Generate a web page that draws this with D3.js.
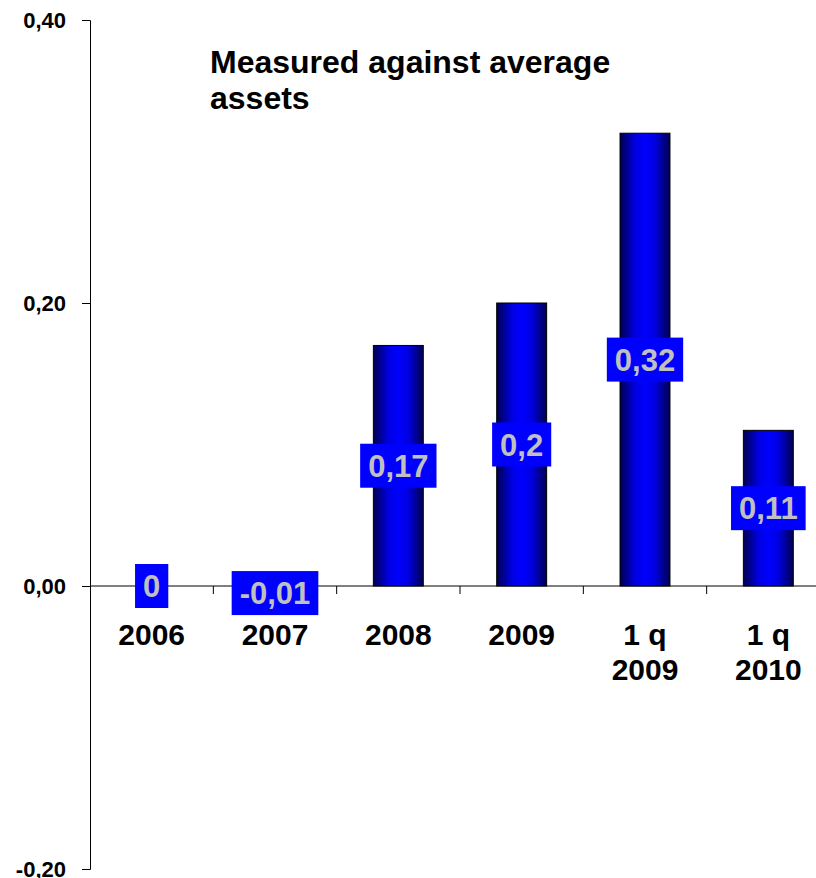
<!DOCTYPE html>
<html>
<head>
<meta charset="utf-8">
<script src="https://cdn.jsdelivr.net/npm/d3@7"></script>
<style>
  html, body { margin: 0; padding: 0; background: #fff; }
  svg { display: block; font-family: Arial, "Liberation Sans", sans-serif; }
</style>
</head>
<body>
<svg id="chart" width="816" height="878"></svg>
<script>
// Return measured against average assets
const categories = [["2006"], ["2007"], ["2008"], ["2009"], ["1 q", "2009"], ["1 q", "2010"]];
const values = [0, -0.01, 0.17, 0.2, 0.32, 0.11];
const valueLabels = ["0", "-0,01", "0,17", "0,2", "0,32", "0,11"];
const yTicks = [-0.2, 0, 0.2, 0.4];
const yTickLabels = ["-0,20", "0,00", "0,20", "0,40"];
const titleLines = ["Measured against average", "assets"];

const svg = d3.select("#chart");
const plot = { left: 90, right: 830, top: 20, bottom: 869 };

const x = d3.scaleBand()
  .domain(d3.range(categories.length))
  .range([plot.left, plot.right])
  .paddingInner(0.595)
  .paddingOuter(0.2975);

const y = d3.scaleLinear().domain([-0.2, 0.4]).range([plot.bottom, plot.top]);

// Horizontal gradient giving the bars a cylindrical look
const defs = svg.append("defs");
const grad = defs.append("linearGradient").attr("id", "barGrad")
  .attr("x1", "0%").attr("x2", "100%").attr("y1", "0%").attr("y2", "0%");
[[0, "#000050"], [0.3, "#0000e0"], [0.5, "#0000ff"], [0.7, "#0000e0"], [1, "#000050"]]
  .forEach(([o, c]) => grad.append("stop").attr("offset", o).attr("stop-color", c));

// Y axis
const yAxis = d3.axisLeft(y).tickValues(yTicks).tickSize(8).tickFormat((d, i) => yTickLabels[i]);
const yG = svg.append("g").attr("transform", `translate(${plot.left},0)`).call(yAxis);
yG.select(".domain").attr("stroke", "#000").attr("stroke-width", 1);
yG.selectAll(".tick line").attr("stroke", "#000");
yG.selectAll(".tick text")
  .attr("x", -24).attr("dy", "0.34em")
  .attr("font-size", 22).attr("font-weight", "bold").attr("fill", "#000")
  .attr("font-family", "Arial, 'Liberation Sans', sans-serif");

// Bars
const bw = x.bandwidth();
svg.append("g").selectAll("rect").data(values).join("rect")
  .attr("x", (d, i) => x(i))
  .attr("y", d => y(Math.max(0, d)))
  .attr("width", bw)
  .attr("height", d => Math.abs(y(d) - y(0)))
  .attr("fill", "url(#barGrad)")
  .attr("stroke", "#000")
  .attr("stroke-width", 1);

// Category axis along zero
const step = x.step();
const xG = svg.append("g");
xG.append("line")
  .attr("x1", plot.left).attr("x2", plot.right)
  .attr("y1", y(0)).attr("y2", y(0))
  .attr("stroke", "#000");
d3.range(1, categories.length + 1).forEach(i => {
  const tx = plot.left + i * step;
  xG.append("line").attr("x1", tx).attr("x2", tx)
    .attr("y1", y(0)).attr("y2", y(0) + 8).attr("stroke", "#000");
});
const catText = svg.append("g").selectAll("text").data(categories).join("text")
  .attr("text-anchor", "middle")
  .attr("font-size", 30).attr("font-weight", "bold").attr("fill", "#000")
  .attr("transform", (d, i) => `translate(${x(i) + bw / 2},${y(0) + 59})`);
catText.selectAll("tspan").data(d => d).join("tspan")
  .attr("x", 0).attr("y", (d, i) => i * 35).text(d => d);

// Value labels: blue boxes with grey text centred on each bar
const lbl = svg.append("g").selectAll("g").data(values).join("g")
  .attr("transform", (d, i) => `translate(${x(i) + bw / 2},${(y(d) + y(0)) / 2})`);
lbl.append("text")
  .attr("text-anchor", "middle").attr("dy", "0.36em")
  .attr("font-size", 31).attr("font-weight", "bold").attr("fill", "#c0c0c0")
  .text((d, i) => valueLabels[i]);
lbl.each(function () {
  const g = d3.select(this);
  const t = g.select("text");
  const b = t.node().getBBox();
  g.insert("rect", "text")
    .attr("x", b.x - 8).attr("y", -22)
    .attr("width", b.width + 16).attr("height", 44)
    .attr("fill", "#0000ff");
});

// Title
svg.append("text")
  .attr("font-size", 32).attr("font-weight", "bold").attr("fill", "#000")
  .selectAll("tspan").data(titleLines).join("tspan")
  .attr("x", 210).attr("y", (d, i) => 73 + i * 36).text(d => d);
</script>
</body>
</html>
